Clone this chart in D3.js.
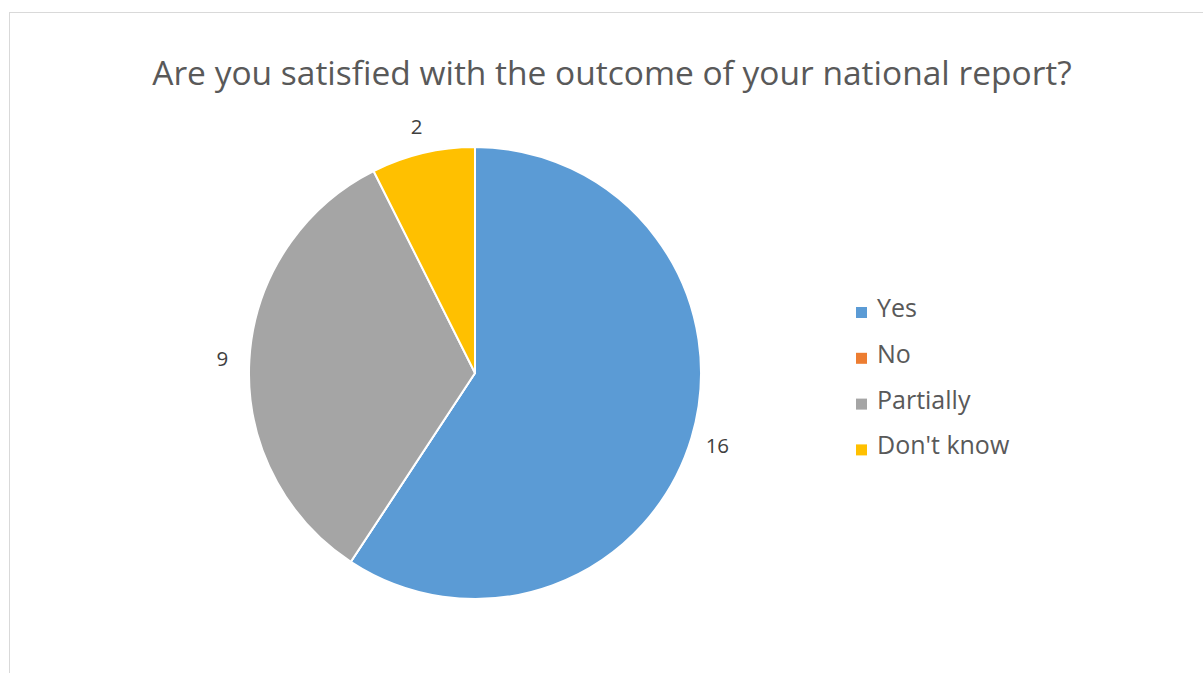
<!DOCTYPE html>
<html>
<head>
<meta charset="utf-8">
<script src="https://cdn.jsdelivr.net/npm/d3@7"></script>
<style>
  body { margin: 0; background: #fff; }
  svg { display: block; font-family: "Open Sans", sans-serif; }
</style>
</head>
<body>
<svg id="chart" width="1203" height="673"></svg>
<script>

// Chart data.

const TITLE = "Are you satisfied with the outcome of your national report?";
const categories = ["Yes", "No", "Partially", "Don't know"];
const counts = [16, 0, 9, 2];
const colours = ["#5B9BD5", "#ED7D31", "#A5A5A5", "#FFC000"];

const svg = d3.select("#chart");
const width = 1203;
const height = 673;

// Chart area border.

svg.append("rect")
    .attr("x", 9.5)
    .attr("y", 12.5)
    .attr("width", width + 10)
    .attr("height", height + 10)
    .attr("fill", "#fff")
    .attr("stroke", "#d9d9d9")
    .attr("stroke-width", 1);

// Title.

svg.append("text")
    .attr("x", 612)
    .attr("y", 85)
    .attr("text-anchor", "middle")
    .attr("font-size", 33.5)
    .attr("fill", "#595959")
    .text(TITLE);

//----------------------------------------------------------------------------//
//                                    PIE                                     //
//----------------------------------------------------------------------------//

const cx = 475, cy = 373, radius = 226;

const rows = categories.map((c, i) => ({ "name": c, "value": counts[i] }));

const colour = d3.scaleOrdinal()
    .domain(categories)
    .range(colours);

const pie = d3.pie()
    .sort(null)
    .value(d => d.value);

const arcs = pie(rows);

const arc = d3.arc()
    .innerRadius(0)
    .outerRadius(radius);

const labelArc = d3.arc()
    .innerRadius(radius + 27)
    .outerRadius(radius + 27);

const g = svg.append("g")
    .attr("transform", `translate(${cx}, ${cy})`);

g.selectAll("path")
    .data(arcs)
    .join("path")
        .attr("d", arc)
        .attr("fill", d => colour(d.data.name))
        .attr("stroke", "#fff")
        .attr("stroke-width", 2)
        .attr("stroke-linejoin", "round");

// Data labels (zero slices get none).

g.selectAll("text")
    .data(arcs.filter(d => d.data.value > 0))
    .join("text")
        .attr("transform", d => `translate(${labelArc.centroid(d)})`)
        .attr("text-anchor", "middle")
        .attr("dy", "0.36em")
        .attr("font-size", 20.5)
        .attr("fill", "#404040")
        .text(d => d.data.value);

//----------------------------------------------------------------------------//
//                                   LEGEND                                   //
//----------------------------------------------------------------------------//

const legend = svg.append("g")
    .attr("transform", "translate(856, 309)");

const item = legend.selectAll("g")
    .data(categories)
    .join("g")
        .attr("transform", (d, i) => `translate(0, ${i * 45.8})`);

item.append("rect")
    .attr("x", 0)
    .attr("y", -2)
    .attr("width", 11)
    .attr("height", 11)
    .attr("fill", d => colour(d));

item.append("text")
    .attr("x", 21)
    .attr("y", 8)
    .attr("font-size", 25)
    .attr("fill", "#595959")
    .text(d => d);

</script>
</body>
</html>
